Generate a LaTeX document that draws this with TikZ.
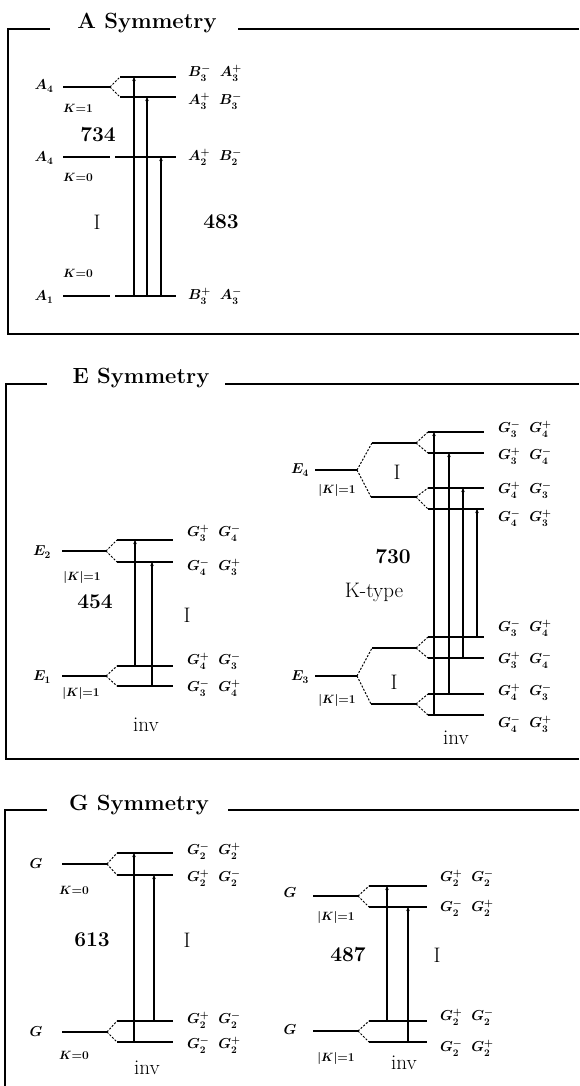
\documentclass[tikz,border=0pt]{standalone}
\usetikzlibrary{arrows.meta}
\tikzset{
  frame/.style={line width=1.6pt},
  title/.style={font=\fontsize{22}{26}\selectfont\bfseries, inner sep=0pt},
  lead/.style={line width=1.4pt},
  lvl/.style={line width=2.2pt},
  splitln/.style={line width=1pt, dash pattern=on 2pt off 1.6pt},
  trans/.style={line width=1.1pt, -{Stealth[length=4pt,width=3.5pt]}},
  sym/.style={font=\fontsize{14}{16}\selectfont\boldmath, inner sep=0pt},
  st/.style={font=\fontsize{14}{16}\selectfont\boldmath, inner sep=0pt, anchor=west},
  kq/.style={font=\fontsize{12}{14}\selectfont\boldmath, inner sep=0pt},
  big/.style={font=\fontsize{21}{24}\selectfont, inner sep=0pt},
  bigb/.style={font=\fontsize{21}{24}\selectfont\bfseries, inner sep=0pt},
}
\newcommand\pairgap{\hspace{9pt}}
\begin{document}
\begin{tikzpicture}[x=1pt,y=-1pt]
\useasboundingbox (0,0) rectangle (579,1086);

% ================= A Symmetry =================
\node[title] (tA) at (147,23) {A Symmetry};
\coordinate (fA1) at (50,29); \coordinate (fA2) at (8,29); \coordinate (fA3) at (8,334);
\coordinate (fA4) at (579,334); \coordinate (fA5) at (238,29); \coordinate (fA6) at (579,29);
\draw[frame] (fA1) -- (fA2) -- (fA3) -- (fA4);
\draw[frame] (fA5) -- (fA6);

% A4 (K=1)
\coordinate (aL1a) at (63,87); \coordinate (aL1b) at (110,87);
\coordinate (aU1a) at (120,77); \coordinate (aU1b) at (176,77);
\coordinate (aU2a) at (120,97); \coordinate (aU2b) at (176,97);
\draw[lead] (aL1a) -- (aL1b);
\draw[splitln] (aL1b) -- (aU1a);
\draw[splitln] (aL1b) -- (aU2a);
\draw[lvl] (aU1a) -- (aU1b);
\draw[lvl] (aU2a) -- (aU2b);
% A4 (K=0)
\coordinate (aL2a) at (63,157); \coordinate (aL2b) at (110,157);
\coordinate (aM1a) at (115,157); \coordinate (aM1b) at (176,157);
\draw[lead] (aL2a) -- (aL2b);
\draw[lvl] (aM1a) -- (aM1b);
% A1 (K=0)
\coordinate (aL3a) at (63,296); \coordinate (aL3b) at (110,296);
\coordinate (aB1a) at (115,296); \coordinate (aB1b) at (176,296);
\draw[lead] (aL3a) -- (aL3b);
\draw[lvl] (aB1a) -- (aB1b);
% transitions
\coordinate (av1b) at (134,296); \coordinate (av1t) at (134,77);
\coordinate (av2b) at (147,296); \coordinate (av2t) at (147,97);
\coordinate (av3b) at (161,296); \coordinate (av3t) at (161,157);
\draw[trans] (av1b) -- (av1t);
\draw[trans] (av2b) -- (av2t);
\draw[trans] (av3b) -- (av3t);
% labels
\node[sym] (aA4a) at (44,86) {$A_4$};
\node[sym] (aA4b) at (44,158) {$A_4$};
\node[sym] (aA1) at (44,297) {$A_1$};
\node[kq] (aK1) at (78,108) {$K{=}1$};
\node[kq] (aK2) at (78,177) {$K{=}0$};
\node[kq] (aK3) at (78,273) {$K{=}0$};
\node[bigb] (a734) at (98,135) {734};
\node[big] (aI) at (97,222) {I};
\node[bigb] (a483) at (221,222) {483};
\node[st] (as1) at (188,73) {$B_3^-\pairgap A_3^+$};
\node[st] (as2) at (188,101) {$A_3^+\pairgap B_3^-$};
\node[st] (as3) at (188,157) {$A_2^+\pairgap B_2^-$};
\node[st] (as4) at (188,296) {$B_3^+\pairgap A_3^-$};

% ================= E Symmetry =================
\node[title] (tE) at (141,378) {E Symmetry};
\coordinate (fE1) at (47,384); \coordinate (fE2) at (6,384); \coordinate (fE3) at (6,759);
\coordinate (fE4) at (579,759); \coordinate (fE5) at (225,384); \coordinate (fE6) at (579,384);
\draw[frame] (fE1) -- (fE2) -- (fE3) -- (fE4);
\draw[frame] (fE5) -- (fE6);

% left: E2
\coordinate (eL1a) at (62,551); \coordinate (eL1b) at (106,551);
\coordinate (eU1a) at (117,540); \coordinate (eU1b) at (173,540);
\coordinate (eU2a) at (117,562); \coordinate (eU2b) at (173,562);
\draw[lead] (eL1a) -- (eL1b);
\draw[splitln] (eL1b) -- (eU1a);
\draw[splitln] (eL1b) -- (eU2a);
\draw[lvl] (eU1a) -- (eU1b);
\draw[lvl] (eU2a) -- (eU2b);
% left: E1
\coordinate (eL2a) at (62,676); \coordinate (eL2b) at (106,676);
\coordinate (eD1a) at (117,666); \coordinate (eD1b) at (173,666);
\coordinate (eD2a) at (117,686); \coordinate (eD2b) at (173,686);
\draw[lead] (eL2a) -- (eL2b);
\draw[splitln] (eL2b) -- (eD1a);
\draw[splitln] (eL2b) -- (eD2a);
\draw[lvl] (eD1a) -- (eD1b);
\draw[lvl] (eD2a) -- (eD2b);
\coordinate (ev1b) at (135,666); \coordinate (ev1t) at (135,540);
\coordinate (ev2b) at (152,686); \coordinate (ev2t) at (152,562);
\draw[trans] (ev1b) -- (ev1t);
\draw[trans] (ev2b) -- (ev2t);
\node[sym] (eE2) at (42,552) {$E_2$};
\node[sym] (eE1) at (42,677) {$E_1$};
\node[kq] (eK1) at (82,577) {$|K|{=}1$};
\node[kq] (eK2) at (81,693) {$|K|{=}1$};
\node[bigb] (e454) at (95,602) {454};
\node[big] (eI) at (187,615) {I};
\node[big] (einv) at (146,725) {inv};
\node[st] (es1) at (187,533) {$G_3^+\pairgap G_4^-$};
\node[st] (es2) at (187,567) {$G_4^-\pairgap G_3^+$};
\node[st] (es3) at (187,661) {$G_4^+\pairgap G_3^-$};
\node[st] (es4) at (187,688) {$G_3^-\pairgap G_4^+$};

% right: E4
\coordinate (rL1a) at (315,470); \coordinate (rL1b) at (357,470);
\coordinate (rH1a) at (372,443); \coordinate (rH1b) at (416,443);
\coordinate (rH2a) at (371,497); \coordinate (rH2b) at (416,497);
\coordinate (rU1a) at (428,432); \coordinate (rU1b) at (484,432);
\coordinate (rU2a) at (428,453); \coordinate (rU2b) at (484,453);
\coordinate (rU3a) at (428,488); \coordinate (rU3b) at (484,488);
\coordinate (rU4a) at (428,509); \coordinate (rU4b) at (484,509);
\draw[lead] (rL1a) -- (rL1b);
\draw[splitln] (rL1b) -- (rH1a);
\draw[splitln] (rL1b) -- (rH2a);
\draw[lead] (rH1a) -- (rH1b);
\draw[lead] (rH2a) -- (rH2b);
\draw[splitln] (rH1b) -- (rU1a);
\draw[splitln] (rH1b) -- (rU2a);
\draw[splitln] (rH2b) -- (rU3a);
\draw[splitln] (rH2b) -- (rU4a);
\draw[lvl] (rU1a) -- (rU1b);
\draw[lvl] (rU2a) -- (rU2b);
\draw[lvl] (rU3a) -- (rU3b);
\draw[lvl] (rU4a) -- (rU4b);
% right: E3
\coordinate (rL2a) at (315,676); \coordinate (rL2b) at (357,676);
\coordinate (rH3a) at (372,648); \coordinate (rH3b) at (416,648);
\coordinate (rH4a) at (371,704); \coordinate (rH4b) at (416,704);
\coordinate (rD1a) at (428,637); \coordinate (rD1b) at (484,637);
\coordinate (rD2a) at (428,658); \coordinate (rD2b) at (484,658);
\coordinate (rD3a) at (428,694); \coordinate (rD3b) at (484,694);
\coordinate (rD4a) at (428,715); \coordinate (rD4b) at (484,715);
\draw[lead] (rL2a) -- (rL2b);
\draw[splitln] (rL2b) -- (rH3a);
\draw[splitln] (rL2b) -- (rH4a);
\draw[lead] (rH3a) -- (rH3b);
\draw[lead] (rH4a) -- (rH4b);
\draw[splitln] (rH3b) -- (rD1a);
\draw[splitln] (rH3b) -- (rD2a);
\draw[splitln] (rH4b) -- (rD3a);
\draw[splitln] (rH4b) -- (rD4a);
\draw[lvl] (rD1a) -- (rD1b);
\draw[lvl] (rD2a) -- (rD2b);
\draw[lvl] (rD3a) -- (rD3b);
\draw[lvl] (rD4a) -- (rD4b);
\coordinate (rv1b) at (434,715); \coordinate (rv1t) at (434,432);
\coordinate (rv2b) at (449,694); \coordinate (rv2t) at (449,453);
\coordinate (rv3b) at (463,658); \coordinate (rv3t) at (463,488);
\coordinate (rv4b) at (477,637); \coordinate (rv4t) at (477,509);
\draw[trans] (rv1b) -- (rv1t);
\draw[trans] (rv2b) -- (rv2t);
\draw[trans] (rv3b) -- (rv3t);
\draw[trans] (rv4b) -- (rv4t);
\node[sym] (rE4) at (300,470) {$E_4$};
\node[sym] (rE3) at (300,677) {$E_3$};
\node[kq] (rK1) at (337,490) {$|K|{=}1$};
\node[kq] (rK2) at (337,700) {$|K|{=}1$};
\node[big] (rI1) at (397,472) {I};
\node[big] (rI2) at (394,682) {I};
\node[bigb] (r730) at (393,557) {730};
\node[big] (rKt) at (374,592) {K-type};
\node[big] (rinv) at (456,738) {inv};
\node[st] (rs1) at (498,429) {$G_3^-\pairgap G_4^+$};
\node[st] (rs2) at (498,456) {$G_3^+\pairgap G_4^-$};
\node[st] (rs3) at (498,490) {$G_4^+\pairgap G_3^-$};
\node[st] (rs4) at (498,518) {$G_4^-\pairgap G_3^+$};
\node[st] (rs5) at (498,628) {$G_3^-\pairgap G_4^+$};
\node[st] (rs6) at (498,660) {$G_3^+\pairgap G_4^-$};
\node[st] (rs7) at (498,692) {$G_4^+\pairgap G_3^-$};
\node[st] (rs8) at (498,724) {$G_4^-\pairgap G_3^+$};

% ================= G Symmetry =================
\node[title] (tG) at (139,805) {G Symmetry};
\coordinate (fG1) at (47,810); \coordinate (fG2) at (5,810); \coordinate (fG3) at (5,1086);
\coordinate (fG5) at (228,810); \coordinate (fG6) at (579,810);
\draw[frame] (fG1) -- (fG2) -- (fG3);
\draw[frame] (fG5) -- (fG6);

% left G
\coordinate (gL1a) at (62,864); \coordinate (gL1b) at (107,864);
\coordinate (gU1a) at (117,853); \coordinate (gU1b) at (173,853);
\coordinate (gU2a) at (117,875); \coordinate (gU2b) at (173,875);
\draw[lead] (gL1a) -- (gL1b);
\draw[splitln] (gL1b) -- (gU1a);
\draw[splitln] (gL1b) -- (gU2a);
\draw[lvl] (gU1a) -- (gU1b);
\draw[lvl] (gU2a) -- (gU2b);
\coordinate (gL2a) at (62,1032); \coordinate (gL2b) at (107,1032);
\coordinate (gD1a) at (117,1021); \coordinate (gD1b) at (173,1021);
\coordinate (gD2a) at (117,1042); \coordinate (gD2b) at (173,1042);
\draw[lead] (gL2a) -- (gL2b);
\draw[splitln] (gL2b) -- (gD1a);
\draw[splitln] (gL2b) -- (gD2a);
\draw[lvl] (gD1a) -- (gD1b);
\draw[lvl] (gD2a) -- (gD2b);
\coordinate (gv1b) at (134,1042); \coordinate (gv1t) at (134,853);
\coordinate (gv2b) at (154,1021); \coordinate (gv2t) at (154,875);
\draw[trans] (gv1b) -- (gv1t);
\draw[trans] (gv2b) -- (gv2t);
\node[sym] (gG1) at (36,864) {$G$};
\node[sym] (gG2) at (36,1032) {$G$};
\node[kq] (gK1) at (74,890) {$K{=}0$};
\node[kq] (gK2) at (74,1055) {$K{=}0$};
\node[bigb] (g613) at (92,940) {613};
\node[big] (gI) at (187,940) {I};
\node[big] (ginv) at (147,1068) {inv};
\node[st] (gs1) at (187,851) {$G_2^-\pairgap G_2^+$};
\node[st] (gs2) at (187,878) {$G_2^+\pairgap G_2^-$};
\node[st] (gs3) at (187,1020) {$G_2^+\pairgap G_2^-$};
\node[st] (gs4) at (187,1045) {$G_2^-\pairgap G_2^+$};

% right G
\coordinate (hL1a) at (313,896); \coordinate (hL1b) at (358,896);
\coordinate (hU1a) at (369,886); \coordinate (hU1b) at (427,886);
\coordinate (hU2a) at (369,907); \coordinate (hU2b) at (427,907);
\draw[lead] (hL1a) -- (hL1b);
\draw[splitln] (hL1b) -- (hU1a);
\draw[splitln] (hL1b) -- (hU2a);
\draw[lvl] (hU1a) -- (hU1b);
\draw[lvl] (hU2a) -- (hU2b);
\coordinate (hL2a) at (313,1031); \coordinate (hL2b) at (358,1031);
\coordinate (hD1a) at (369,1021); \coordinate (hD1b) at (427,1021);
\coordinate (hD2a) at (369,1042); \coordinate (hD2b) at (427,1042);
\draw[lead] (hL2a) -- (hL2b);
\draw[splitln] (hL2b) -- (hD1a);
\draw[splitln] (hL2b) -- (hD2a);
\draw[lvl] (hD1a) -- (hD1b);
\draw[lvl] (hD2a) -- (hD2b);
\coordinate (hv1b) at (387,1021); \coordinate (hv1t) at (387,886);
\coordinate (hv2b) at (408,1042); \coordinate (hv2t) at (408,907);
\draw[trans] (hv1b) -- (hv1t);
\draw[trans] (hv2b) -- (hv2t);
\node[sym] (hG1) at (290,893) {$G$};
\node[sym] (hG2) at (290,1030) {$G$};
\node[kq] (hK1) at (336,917) {$|K|{=}1$};
\node[kq] (hK2) at (336,1058) {$|K|{=}1$};
\node[bigb] (h487) at (348,955) {487};
\node[big] (hI) at (437,955) {I};
\node[big] (hinv) at (404,1063) {inv};
\node[st] (hs1) at (440,878) {$G_2^+\pairgap G_2^-$};
\node[st] (hs2) at (440,908) {$G_2^-\pairgap G_2^+$};
\node[st] (hs3) at (440,1017) {$G_2^+\pairgap G_2^-$};
\node[st] (hs4) at (440,1048) {$G_2^-\pairgap G_2^+$};
\end{tikzpicture}
\end{document}
